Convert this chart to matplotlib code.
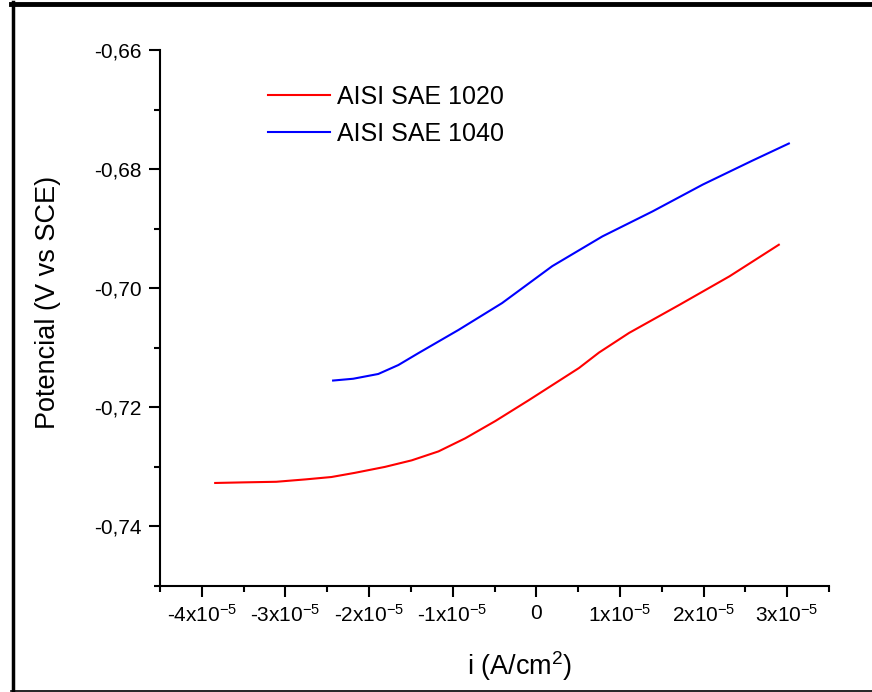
import matplotlib
matplotlib.use("Agg")
import matplotlib.pyplot as plt
from matplotlib.ticker import MultipleLocator, FuncFormatter
from matplotlib.lines import Line2D

plt.rcParams['font.family'] = ['Liberation Sans', 'DejaVu Sans']
plt.rcParams['mathtext.default'] = 'regular'
plt.rcParams['axes.unicode_minus'] = False

# current density (A/cm2) and potential (V vs SCE)
i_1020 = [-3.84e-5, -3.50e-5, -3.11e-5, -2.76e-5, -2.45e-5, -2.17e-5, -1.81e-5,
          -1.49e-5, -1.17e-5, -0.85e-5, -0.49e-5, -0.09e-5, 0.51e-5, 0.75e-5,
          1.11e-5, 1.71e-5, 2.31e-5, 2.90e-5]
e_1020 = [-0.7327, -0.7326, -0.7325, -0.7321, -0.7317, -0.7310, -0.7300,
          -0.7289, -0.7274, -0.7252, -0.7223, -0.7188, -0.7134, -0.7108,
          -0.7075, -0.7028, -0.6980, -0.6927]

i_1040 = [-2.43e-5, -2.19e-5, -1.89e-5, -1.65e-5, -1.41e-5, -0.93e-5, -0.41e-5,
          0.19e-5, 0.79e-5, 1.39e-5, 1.99e-5, 2.58e-5, 3.02e-5]
e_1040 = [-0.7155, -0.7152, -0.7144, -0.7129, -0.7109, -0.7070, -0.7025,
          -0.6963, -0.6913, -0.6871, -0.6826, -0.6786, -0.6757]

labels = ['AISI SAE 1020', 'AISI SAE 1040']

fig = plt.figure(figsize=(8.72, 6.92), dpi=100)
ax = fig.add_axes([160 / 872, 1 - 586 / 692, 669 / 872, 536 / 692])

ax.plot(i_1020, e_1020, color='#ff0000', lw=1.5, label=labels[0])
ax.plot(i_1040, e_1040, color='#0000ff', lw=1.5, label=labels[1])

ax.set_xlim(-4.5e-5, 3.5e-5)
ax.set_ylim(-0.75, -0.66)

for s in ['top', 'right']:
    ax.spines[s].set_visible(False)
for s in ['left', 'bottom']:
    ax.spines[s].set_linewidth(1.5)

ax.xaxis.set_major_locator(MultipleLocator(1e-5))
ax.xaxis.set_minor_locator(MultipleLocator(0.5e-5))
ax.yaxis.set_major_locator(MultipleLocator(0.02))
ax.yaxis.set_minor_locator(MultipleLocator(0.01))


def xfmt(v, pos):
    n = int(round(v / 1e-5))
    if n == 0:
        return '0'
    return '%dx10$^{-5}$' % n


def yfmt(v, pos):
    return ('%.2f' % v).replace('.', ',')


ax.xaxis.set_major_formatter(FuncFormatter(xfmt))
ax.yaxis.set_major_formatter(FuncFormatter(yfmt))
ax.tick_params(which='major', direction='out', length=8, width=1.5, labelsize=15, pad=5)
ax.tick_params(which='minor', direction='out', length=4, width=1.5)

ax.set_xlabel('i (A/cm$^2$)', fontsize=19.5)
ax.set_ylabel('Potencial (V vs SCE)', fontsize=19.5)
ax.xaxis.set_label_coords(0.538, -0.118)
ax.yaxis.set_label_coords(-0.148, 0.529)

ax.legend(loc='upper left', bbox_to_anchor=(0.1614, 0.935), frameon=False,
          fontsize=18, handlelength=2.5, handletextpad=0.25, borderpad=0,
          borderaxespad=0, labelspacing=0.52)

# border of the figure
fig.add_artist(Line2D([11 / 872, 1], [1 - 4 / 692] * 2, color='black', lw=3.5,
                      transform=fig.transFigure))
fig.add_artist(Line2D([12.5 / 872] * 2, [0, 1 - 2 / 692], color='black', lw=2.5,
                      transform=fig.transFigure))
fig.add_artist(Line2D([11 / 872, 1], [1.5 / 692] * 2, color='black', lw=1.2,
                      transform=fig.transFigure))

fig.savefig('out.png', dpi=100)
